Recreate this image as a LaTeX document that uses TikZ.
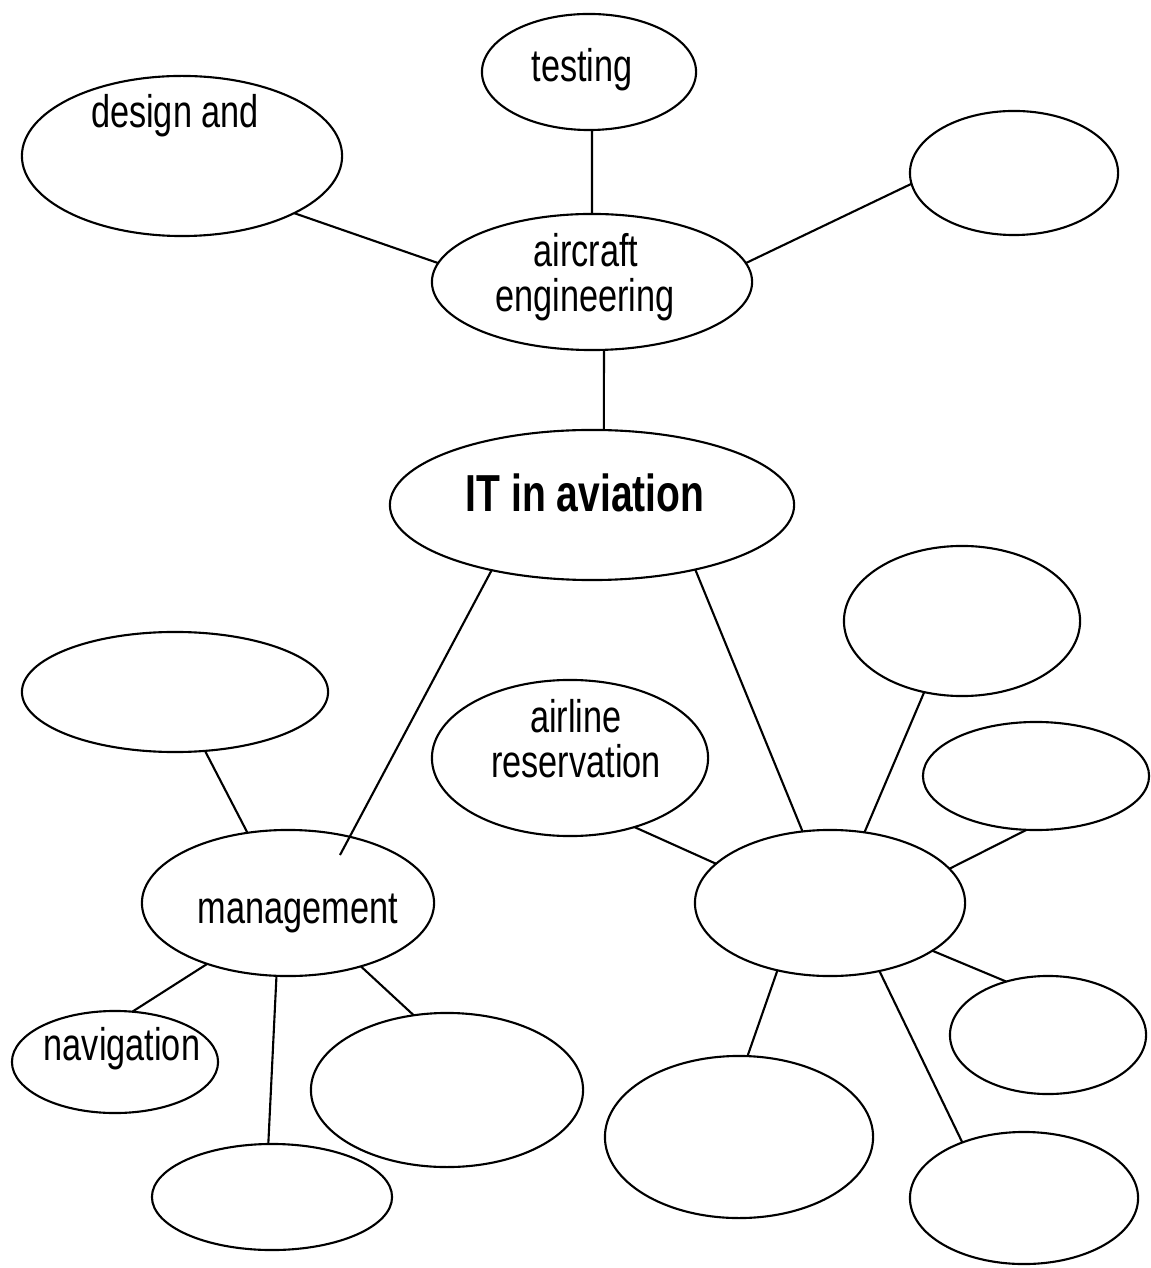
\documentclass[tikz,border=0pt]{standalone}
\usepackage{fontspec}
\newfontfamily\lab[FakeStretch=0.75]{Liberation Sans}
\usetikzlibrary{shapes.geometric,calc}
\begin{document}
\begin{tikzpicture}[x=0.01cm,y=-0.01cm, line width=0.6pt,
  ell/.style 2 args={draw, ellipse, inner sep=0pt, outer sep=0pt,
    minimum width=#1*0.1mm, minimum height=#2*0.1mm},
  txt/.style={inner sep=0pt, anchor=base, font=\lab\fontsize{13}{15}\selectfont},
  big/.style={inner sep=0pt, anchor=base, font=\lab\bfseries\fontsize{14.8}{17}\selectfont},
  link/.style={draw, line width=0.6pt}]
\useasboundingbox (0,0) rectangle (1150,1268);
\fill[white] (0,0) rectangle (1150,1268);

% ellipses
\node[ell={214}{116}] (A) at (589,72) {};
\node[ell={320}{160}] (B) at (182,156) {};
\node[ell={208}{124}] (C) at (1014,173) {};
\node[ell={320}{136}] (D) at (592,282) {};
\node[ell={404}{150}] (E) at (592,505) {};
\node[ell={236}{150}] (F) at (962,621) {};
\node[ell={306}{120}] (G) at (175,692) {};
\node[ell={276}{156}] (H) at (570,758) {};
\node[ell={226}{108}] (I) at (1036,776) {};
\node[ell={270}{146}] (J) at (830,903) {};
\node[ell={292}{146}] (K) at (288,903) {};
\node[ell={206}{102}] (L) at (115,1062) {};
\node[ell={272}{154}] (M) at (447,1090) {};
\node[ell={240}{106}] (N) at (272,1197) {};
\node[ell={196}{118}] (O) at (1048,1035) {};
\node[ell={268}{162}] (P) at (739,1137) {};
\node[ell={228}{132}] (Q) at (1024,1198) {};

% texts
\node[txt] (tA) at (582,82) {testing};
\node[txt] (tB) at (175,128) {design and};
\node[txt] (tD1) at (586,267) {aircraft};
\node[txt] (tD2) at (585,312) {engineering};
\node[big] (tE) at (585,512) {IT in aviation};
\node[txt] (tH1) at (576,732) {airline};
\node[txt] (tH2) at (576,777) {reservation};
\node[txt] (tK) at (298,923) {management};
\node[txt] (tL) at (122,1060) {navigation};

% connectors
\path[link] (A.273) -- (D.90);
\path[link] (B.333) -- (D.173);
\path[link] (D.7) -- (C.186);
\path[link] (D.280) -- (E.81);
\path[link] (E.213) -- ($(K.center)+(52,-48)$);
\path[link] (E.328) -- (J.111);
\path[link] (G.297) -- (K.120);
\path[link] (H.313) -- (J.161);
\path[link] (J.64) -- (F.242);
\path[link] (J.16) -- (I.260);
\path[link] (J.335) -- (O.128);
\path[link] (J.232) -- (P.84);
\path[link] (J.306) -- (Q.138);
\path[link] (K.217) -- (L.71);
\path[link] (K.261) -- (N.94);
\path[link] (K.319) -- (M.114);
\end{tikzpicture}
\end{document}
